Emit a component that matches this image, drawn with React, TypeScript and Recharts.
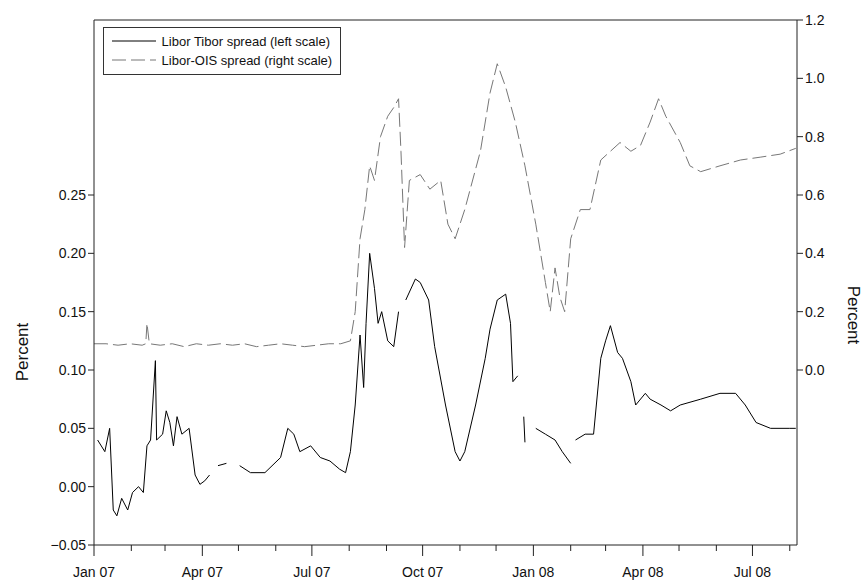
import React from 'react';
import { LineChart, Line, XAxis, YAxis } from 'recharts';

// days since 1 Jan 2007
const tiborDays = [3, 9, 13, 16, 19, 23, 28, 32, 37, 41, 44, 47, 51, 52, 57, 60, 63, 66, 69, 73, 79, 84, 88, 92, 96, 98, 103, 110, 116, 121, 130, 142, 155, 161, 166, 171, 180, 188, 196, 204, 209, 213, 217, 221, 224, 226, 229, 233, 236, 239, 244, 249, 253, 256, 259, 267, 271, 278, 283, 292, 300, 304, 308, 317, 325, 329, 335, 342, 346, 348, 352, 354, 357, 358, 361, 367, 375, 383, 389, 396, 398, 400, 408, 415, 421, 425, 429, 435, 439, 446, 450, 458, 462, 471, 479, 487, 504, 520, 533, 541, 550, 562, 578, 583];
const tiborValues: (number | null)[] = [0.04, 0.03, 0.05, -0.02, -0.025, -0.01, -0.02, -0.005, 0.0, -0.005, 0.035, 0.04, 0.108, 0.04, 0.045, 0.065, 0.055, 0.035, 0.06, 0.045, 0.05, 0.01, 0.002, 0.005, 0.01, null, 0.018, 0.02, null, 0.018, 0.012, 0.012, 0.025, 0.05, 0.045, 0.03, 0.035, 0.025, 0.022, 0.015, 0.012, 0.03, 0.07, 0.13, 0.085, 0.14, 0.2, 0.17, 0.14, 0.15, 0.125, 0.12, 0.15, null, 0.16, 0.178, 0.175, 0.16, 0.12, 0.07, 0.03, 0.022, 0.03, 0.07, 0.11, 0.135, 0.16, 0.165, 0.14, 0.09, 0.095, null, 0.06, 0.038, null, 0.05, 0.045, 0.04, 0.03, 0.02, null, 0.04, 0.045, 0.045, 0.11, 0.125, 0.138, 0.115, 0.11, 0.09, 0.07, 0.08, 0.075, 0.07, 0.065, 0.07, 0.075, 0.08, 0.08, 0.07, 0.055, 0.05, 0.05, 0.05];

const oisDays = [0, 10, 20, 30, 40, 43, 44, 46, 55, 65, 75, 85, 95, 105, 115, 125, 135, 145, 155, 165, 175, 185, 195, 205, 213, 217, 221, 225, 229, 233, 238, 244, 249, 253, 255, 258, 262, 271, 279, 288, 294, 300, 308, 321, 329, 335, 342, 350, 358, 367, 375, 379, 383, 387, 391, 396, 404, 412, 421, 429, 437, 446, 454, 462, 469, 475, 487, 495, 504, 520, 537, 554, 570, 583];
const oisValues = [0.09, 0.09, 0.085, 0.09, 0.085, 0.09, 0.16, 0.09, 0.085, 0.09, 0.08, 0.09, 0.085, 0.09, 0.085, 0.09, 0.08, 0.085, 0.09, 0.085, 0.08, 0.085, 0.09, 0.09, 0.1, 0.2, 0.45, 0.55, 0.7, 0.65, 0.8, 0.87, 0.9, 0.93, 0.75, 0.42, 0.65, 0.67, 0.62, 0.65, 0.5, 0.45, 0.55, 0.75, 0.95, 1.05, 0.97, 0.85, 0.7, 0.5, 0.3, 0.2, 0.35, 0.25, 0.2, 0.45, 0.55, 0.55, 0.72, 0.75, 0.78, 0.75, 0.77, 0.85, 0.93, 0.87, 0.78, 0.7, 0.68, 0.7, 0.72, 0.73, 0.74, 0.76];

const monthTicks = [0, 31, 59, 90, 120, 151, 181, 212, 243, 273, 304, 334, 365, 396, 425, 456, 486, 517, 547, 578];
const quarterLabels: Record<number, string> = { 0: 'Jan 07', 90: 'Apr 07', 181: 'Jul 07', 273: 'Oct 07', 365: 'Jan 08', 456: 'Apr 08', 547: 'Jul 08' };
const leftTicks = [-0.05, 0, 0.05, 0.1, 0.15, 0.2, 0.25];
const rightTicks = [0, 0.2, 0.4, 0.6, 0.8, 1.0, 1.2];

const tiborData = tiborDays.map((d, i) => ({ day: d, tibor: tiborValues[i] }));
const oisData = oisDays.map((d, i) => ({ day: d, ois: oisValues[i] }));

const font = '"Liberation Sans", Arial, sans-serif';

const MonthTick = (props: any) => {
    const { x, y, payload } = props;
    const label = quarterLabels[payload.value];
    return (
        <g>
            <line x1={x} x2={x} y1={y - 8} y2={y - 8 + (label ? 11 : 6)} stroke="#222" />
            {label && <text x={x} y={y + 24} textAnchor="middle" fontSize={14} fill="#111" fontFamily={font}>{label}</text>}
        </g>
    );
};

const LegendBox = () => (
    <div style={{ position: 'absolute', left: 103, top: 27, border: '1px solid #333', background: '#fff', padding: '4px 8px', fontFamily: font, fontSize: 13, color: '#111', lineHeight: '19px' }}>
        <div><svg width={46} height={10}><line x1={0} x2={44} y1={5} y2={5} stroke="#000" /></svg> Libor Tibor spread (left scale)</div>
        <div><svg width={46} height={10}><line x1={0} x2={44} y1={5} y2={5} stroke="#777" strokeDasharray="14 5" /></svg> Libor-OIS spread (right scale)</div>
    </div>
);

const leftLabel = () => (
    <text x={20} y={344} transform="rotate(-90 20 344)" textAnchor="middle" fontSize={17} fill="#111" fontFamily={font}>Percent</text>
);
const rightLabel = () => (
    <text x={840} y={307} transform="rotate(90 840 307)" textAnchor="middle" fontSize={17} fill="#111" fontFamily={font}>Percent</text>
);

export default function App() {
    return (
        <div style={{ position: 'absolute', left: 0, top: 0, width: 867, height: 583 }}>
            <div style={{ position: 'absolute', left: 8, top: 8 }}>
                <LineChart width={859} height={575} margin={{ top: 11, right: 0, left: 0, bottom: 0 }}>
                    <XAxis dataKey="day" type="number" domain={[0, 584]} ticks={monthTicks} interval={0} tick={<MonthTick />} tickLine={false} height={38} stroke="#222" allowDuplicatedCategory={false} />
                    <XAxis xAxisId="top" orientation="top" dataKey="day" type="number" domain={[0, 584]} tick={false} tickLine={false} height={1} stroke="#222" allowDuplicatedCategory={false} />
                    <YAxis yAxisId="left" domain={[-0.05, 0.4]} ticks={leftTicks} interval={0} width={86} stroke="#222" tickSize={6}
                        tick={{ fill: '#111', fontSize: 14, fontFamily: font }}
                        tickFormatter={(v: number) => (v < 0 ? '\u2212' + Math.abs(v).toFixed(2) : v.toFixed(2))}
                        label={leftLabel} />
                    <YAxis yAxisId="right" orientation="right" domain={[-0.6, 1.2]} ticks={rightTicks} interval={0} width={70} stroke="#222" tickSize={6}
                        tick={{ fill: '#111', fontSize: 14, fontFamily: font }}
                        tickFormatter={(v: number) => v.toFixed(1)}
                        label={rightLabel} />
                    <Line yAxisId="right" data={oisData} dataKey="ois" stroke="#777" strokeDasharray="14 5" dot={false} strokeWidth={1} isAnimationActive={false} />
                    <Line yAxisId="left" data={tiborData} dataKey="tibor" stroke="#000" dot={false} strokeWidth={1} connectNulls={false} isAnimationActive={false} />
                </LineChart>
            </div>
            <LegendBox />
        </div>
    );
}
